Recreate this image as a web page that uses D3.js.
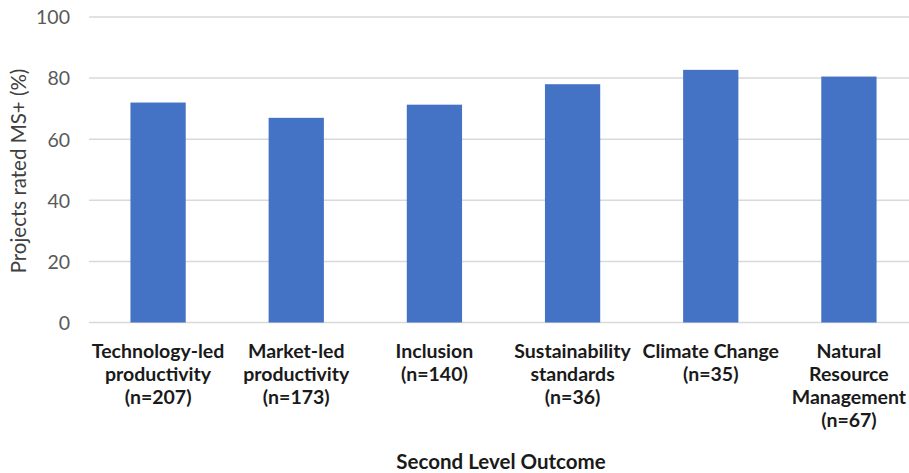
<!DOCTYPE html>
<html><head><meta charset="utf-8">
<script src="https://cdn.jsdelivr.net/npm/d3@7"></script>
<style>body{margin:0;background:#fff}svg{display:block}</style>
</head><body>
<svg id="c" width="909" height="473"></svg>
<script>
const categories = [
  "Technology-led|productivity|(n=207)",
  "Market-led|productivity|(n=173)",
  "Inclusion|(n=140)",
  "Sustainability|standards|(n=36)",
  "Climate Change|(n=35)",
  "Natural|Resource|Management|(n=67)"
];
const values = [72, 67, 71.3, 78, 82.7, 80.5];
const yTicks = [0, 20, 40, 60, 80, 100];
const yTitle = "Projects rated MS+ (%)";
const xTitle = "Second Level Outcome";

const svg = d3.select("#c");
const font = "Lato, 'Open Sans', sans-serif";
const x = d3.scaleBand().domain(categories).range([89, 918]).paddingInner(0.6).paddingOuter(0.3);
const y = d3.scaleLinear().domain([0, 100]).range([322.5, 17]);

// gridlines
svg.append("g").selectAll("line").data(yTicks).join("line")
  .attr("x1", 89).attr("x2", 909)
  .attr("y1", d => y(d)).attr("y2", d => y(d))
  .attr("stroke", "#d9d9d9").attr("stroke-width", 1.5);

// y axis labels
const yAxis = d3.axisLeft(y).tickValues(yTicks).tickSize(0).tickPadding(0);
const ga = svg.append("g").attr("transform", "translate(70,0)").call(yAxis);
ga.select(".domain").remove();
ga.selectAll("text").attr("font-family", font).attr("font-size", 19.5).attr("fill", "#595959").attr("dy", "0.35em");

// bars
svg.append("g").selectAll("rect").data(values).join("rect")
  .attr("x", (d, i) => x(categories[i]))
  .attr("width", x.bandwidth())
  .attr("y", d => y(d))
  .attr("height", d => y(0) - y(d))
  .attr("fill", "#4472C4");

// x labels
const xl = svg.append("g").selectAll("text").data(categories).join("text")
  .attr("x", d => x(d) + x.bandwidth() / 2)
  .attr("y", 358)
  .attr("text-anchor", "middle")
  .attr("font-family", font).attr("font-size", 19.5).attr("font-weight", "bold").attr("fill", "#1a1a1a");
xl.each(function(d) {
  const t = d3.select(this);
  d.split("|").forEach((line, k) => {
    t.append("tspan").attr("x", t.attr("x")).attr("y", 358 + k * 23).text(line);
  });
});

// axis titles
svg.append("text").attr("x", 501).attr("y", 469).attr("text-anchor", "middle")
  .attr("font-family", font).attr("font-size", 20.5).attr("font-weight", "bold").attr("fill", "#1a1a1a").text(xTitle);
svg.append("text").attr("transform", "translate(26,171) rotate(-90)").attr("text-anchor", "middle")
  .attr("font-family", font).attr("font-size", 20.5).attr("fill", "#404040").text(yTitle);
</script>
</body></html>
